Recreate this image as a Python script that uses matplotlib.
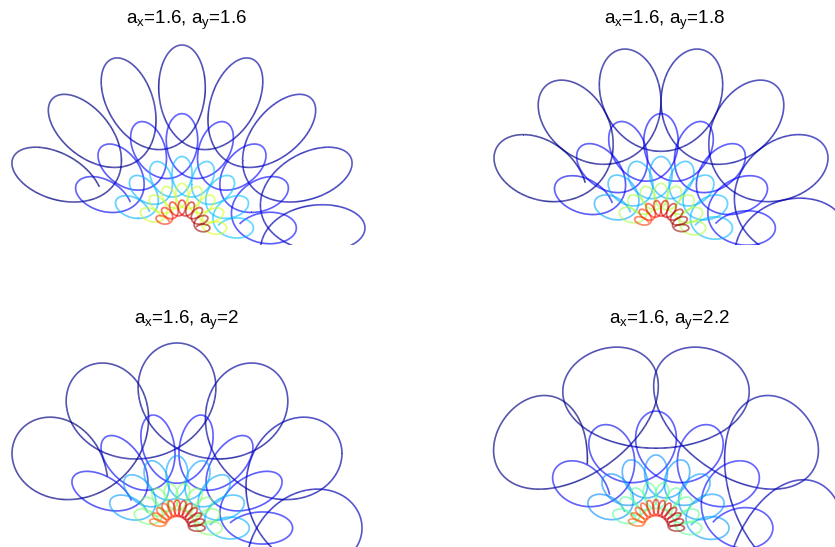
import numpy as np
import matplotlib as mpl
import matplotlib.pyplot as plt
from matplotlib.collections import LineCollection

mpl.rcParams['font.family'] = ['Liberation Sans', 'DejaVu Sans']
mpl.rcParams['mathtext.default'] = 'regular'

# panel titles
titles = [r'a$_x$=1.6, a$_y$=1.6', r'a$_x$=1.6, a$_y$=1.8',
          r'a$_x$=1.6, a$_y$=2', r'a$_x$=1.6, a$_y$=2.2']
ax_scale = 1.6   # each ring is a_x times the next inner one

# outer ring: petal tip radius and petal length (px)
tip_outer = [183, 183, 185, 187]
len_outer = [93, 98, 103, 100]

# petals per half turn, outer -> inner ring
n_petals = [[8, 8, 8, 8, 8],
            [7, 8, 8, 8, 9],
            [6, 7, 8, 9, 12],
            [5, 6, 8, 9, 12]]

# petal width / petal length, outer -> inner
w_ratio = [[0.52, 0.56, 0.57, 0.56, 0.55],
           [0.63, 0.58, 0.6, 0.6, 0.5],
           [0.78, 0.52, 0.56, 0.55, 0.42],
           [1.0, 0.68, 0.6, 0.55, 0.42]]

# jet colour value at left and right end of each ring
c_left = [[0.0, 0.1, 0.30, 0.60, 0.86],
          [0.0, 0.1, 0.29, 0.55, 0.84],
          [0.0, 0.1, 0.28, 0.50, 0.80],
          [0.0, 0.1, 0.26, 0.45, 0.80]]
c_right = [[0.05, 0.13, 0.32, 0.62, 0.98],
           [0.05, 0.13, 0.31, 0.57, 0.98],
           [0.05, 0.13, 0.30, 0.52, 0.98],
           [0.05, 0.13, 0.28, 0.47, 0.98]]

# panel boxes in pixels (left, top, right, bottom) and ring centre
boxes = [(0, 35, 370, 245), (475, 35, 835, 245),
         (0, 335, 370, 547), (475, 335, 835, 547)]
centres = [(182, 228), (661, 228), (177, 528), (656, 528)]
title_pos = [(186, 20), (665, 20), (187, 320), (669, 320)]

W_FIG, H_FIG = 835, 547


def ring_params(T, H, W, n):
    dphi = np.pi / n
    qs = np.linspace(1.01, 40, 8000)
    ts = np.arccos(1 / qs)
    wq = 2 * (qs * np.sin(ts) - ts)
    a = H / 1.8
    for _ in range(10):
        Rc = T - a
        c = Rc * dphi / (2 * np.pi)
        q = np.interp(W / c, wq, qs)
        t = np.linspace(np.arccos(1 / q), np.pi, 3000)
        t0 = t[np.argmin(np.abs(q * np.sin(t) - t))]
        a = H / (1 - np.cos(t0))
    return Rc, a, q * c, t0


plt.close('all')
fig = plt.figure(figsize=(W_FIG / 100, H_FIG / 100), dpi=100)
cmap = plt.get_cmap('jet')

for i in range(4):
    x0, y0, x1, y1 = boxes[i]
    cx, cy = centres[i]
    ax = fig.add_axes([x0 / W_FIG, 1 - y1 / H_FIG, (x1 - x0) / W_FIG, (y1 - y0) / H_FIG])
    for k in range(5):
        s = ax_scale ** k
        T = tip_outer[i] / s
        H = len_outer[i] / s
        n = n_petals[i][k]
        W = w_ratio[i][k] * H
        Rc, a, b, t0 = ring_params(T, H, W, n)
        dphi = np.pi / n
        psi_end = 2 * np.pi * (n - 1) + t0
        if k == 0:
            psi_end = 2 * np.pi * (n + 1.5)
        psi = np.linspace(-t0, psi_end, 3000)
        phi = np.pi - dphi - psi / (2 * np.pi) * dphi
        x = (Rc + a * np.cos(psi)) * np.cos(phi) - b * np.sin(psi) * np.sin(phi)
        y = (Rc + a * np.cos(psi)) * np.sin(phi) + b * np.sin(psi) * np.cos(phi)
        pts = np.column_stack([x, y]).reshape(-1, 1, 2)
        segs = np.concatenate([pts[:-1], pts[1:]], axis=1)
        frac = np.clip((psi[:-1] + t0) / (2 * np.pi * (n - 1) + 2 * t0), 0, 1)
        vals = c_left[i][k] + (c_right[i][k] - c_left[i][k]) * frac
        lc = LineCollection(segs, colors=cmap(vals), linewidths=1.15, alpha=0.8)
        ax.add_collection(lc)
    ax.set_xlim(x0 - cx, x1 - cx)
    ax.set_ylim(cy - y1, cy - y0)
    ax.axis('off')
    tx, ty = title_pos[i]
    fig.text(tx / W_FIG, 1 - ty / H_FIG, titles[i], ha='center', va='center', fontsize=13.5)

plt.savefig('out.png', dpi=100)
